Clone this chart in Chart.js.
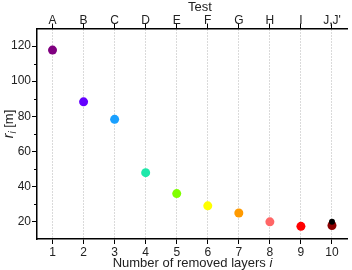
<!DOCTYPE html>
<html lang="en">
<head>
    <meta charset="UTF-8">
    <title>Radius vs removed layers</title>
    <style>
        body { margin: 0; background: #fff; }
        #wrap { width: 352px; height: 270px; }
    </style>
</head>
<body>
    <div id="wrap"><canvas id="chart" width="352" height="270"></canvas></div>
    <script src="https://cdn.jsdelivr.net/npm/chart.js"></script>
    <script>
        // data
        const layers = [1, 2, 3, 4, 5, 6, 7, 8, 9, 10];
        const radius = [117.7, 88.2, 78.2, 47.8, 35.9, 28.9, 24.8, 19.8, 17.2, 17.7];
        const pointColors = ['#800080', '#6400ff', '#1aa0ff', '#1ee8aa', '#80ff00',
                             '#ffff00', '#ff9a00', '#ff6666', '#ff0000', '#8c0000'];
        const testLabels = ['A', 'B', 'C', 'D', 'E', 'F', 'G', 'H', 'I', "J,J'"];
        const extraX = [10];
        const extraY = [19.8];
        const yTicks = [20, 40, 60, 80, 100, 120];
        const yMinorTicks = [30, 50, 70, 90, 110];

        const font = 'Arial, "Liberation Sans", sans-serif';
        const textColor = '#222';

        // draws axis titles (with italic subscript) and minor ticks
        const decor = {
            id: 'decor',
            afterDraw(chart) {
                const ctx = chart.ctx;
                const y = chart.scales.y;
                const area = chart.chartArea;
                ctx.save();

                // minor ticks on the y axis
                ctx.strokeStyle = '#000';
                ctx.lineWidth = 1;
                yMinorTicks.forEach(v => {
                    const py = Math.round(y.getPixelForValue(v)) + 0.5;
                    ctx.beginPath();
                    ctx.moveTo(area.left - 3, py);
                    ctx.lineTo(area.left, py);
                    ctx.stroke();
                });

                ctx.fillStyle = textColor;
                ctx.textBaseline = 'alphabetic';

                // top title
                ctx.font = '13px ' + font;
                ctx.textAlign = 'center';
                ctx.fillText('Test', 200, 11);

                // bottom title
                ctx.textAlign = 'left';
                const part1 = 'Number of removed layers ';
                ctx.font = '13px ' + font;
                const w1 = ctx.measureText(part1).width;
                ctx.font = 'italic 13px ' + font;
                const w2 = ctx.measureText('i').width;
                let x0 = 192.5 - (w1 + w2) / 2;
                ctx.font = '13px ' + font;
                ctx.fillText(part1, x0, 267);
                ctx.font = 'italic 13px ' + font;
                ctx.fillText('i', x0 + w1, 267);

                // left title, rotated
                ctx.translate(13, 124);
                ctx.rotate(-Math.PI / 2);
                ctx.font = 'italic 14px ' + font;
                const wr = ctx.measureText('r').width;
                ctx.font = 'italic 10px ' + font;
                const wi = ctx.measureText('i').width;
                ctx.font = '13px ' + font;
                const wm = ctx.measureText(' [m]').width;
                let s = -(wr + wi + wm) / 2;
                ctx.font = 'italic 14px ' + font;
                ctx.fillText('r', s, 0);
                ctx.font = 'italic 10px ' + font;
                ctx.fillText('i', s + wr, 3);
                ctx.font = '13px ' + font;
                ctx.fillText(' [m]', s + wr + wi, 0);

                ctx.restore();
            }
        };

        const ctx = document.getElementById('chart').getContext('2d');
        new Chart(ctx, {
            type: 'scatter',
            data: {
                datasets: [
                    {
                        data: extraX.map((x, i) => ({ x: x, y: extraY[i] })),
                        backgroundColor: '#000',
                        pointRadius: 3,
                        borderWidth: 0
                    },
                    {
                        data: layers.map((x, i) => ({ x: x, y: radius[i] })),
                        pointBackgroundColor: pointColors,
                        pointRadius: 4.5,
                        borderWidth: 0
                    }
                ]
            },
            options: {
                responsive: false,
                animation: false,
                layout: { padding: { right: 1, left: 0, top: 0, bottom: 0 } },
                plugins: {
                    legend: { display: false },
                    tooltip: { enabled: false }
                },
                scales: {
                    x: {
                        type: 'linear',
                        position: 'bottom',
                        min: 0.5,
                        max: 10.5,
                        afterBuildTicks: s => { s.ticks = layers.map(v => ({ value: v })); },
                        afterFit: s => { s.height = 31; },
                        grid: { drawOnChartArea: false, tickLength: 5, tickColor: '#000', tickWidth: 1 },
                        border: { color: '#000', width: 1.5 },
                        ticks: { font: { family: font, size: 12 }, color: textColor, padding: 1, maxRotation: 0 }
                    },
                    x2: {
                        type: 'linear',
                        position: 'top',
                        min: 0.5,
                        max: 10.5,
                        afterBuildTicks: s => { s.ticks = layers.map(v => ({ value: v })); },
                        afterFit: s => { s.height = 28.5; },
                        grid: { drawOnChartArea: true, color: '#b4b4b4', lineWidth: 1,
                                tickLength: 5, tickColor: '#000', tickWidth: 1 },
                        border: { color: '#000', width: 1.5, dash: [1, 2] },
                        ticks: {
                            font: { family: font, size: 12 }, color: textColor, padding: -4, maxRotation: 0,
                            callback: (v) => testLabels[layers.indexOf(v)]
                        }
                    },
                    y: {
                        type: 'linear',
                        min: 10,
                        max: 130,
                        afterBuildTicks: s => { s.ticks = yTicks.map(v => ({ value: v })); },
                        afterFit: s => { s.width = 37; },
                        grid: { drawOnChartArea: false, tickLength: 5, tickColor: '#000', tickWidth: 1 },
                        border: { color: '#000', width: 1.5 },
                        ticks: { font: { family: font, size: 12 }, color: textColor, padding: 1 }
                    }
                }
            },
            plugins: [decor]
        });
    </script>
</body>
</html>
